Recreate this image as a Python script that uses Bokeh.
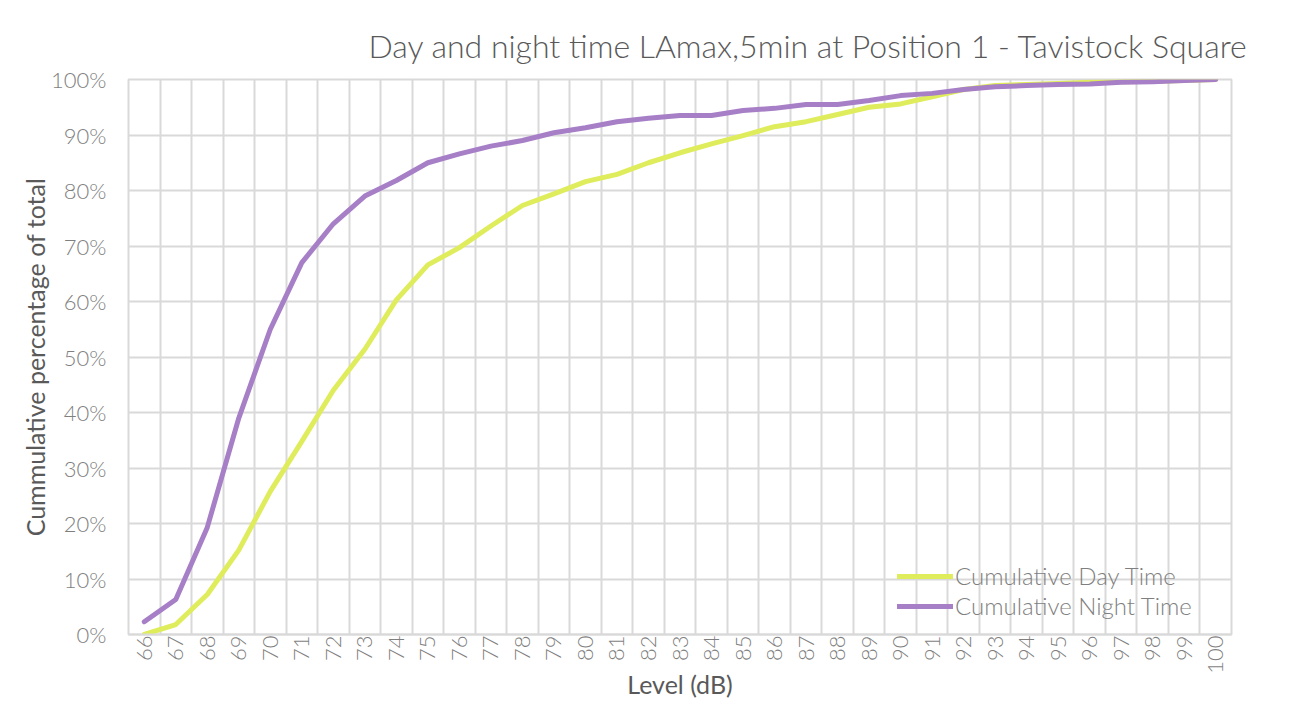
from bokeh.plotting import figure
from bokeh.models import Range1d, FixedTicker, NumeralTickFormatter, Legend, LegendItem, Title
from bokeh.embed import file_html
from bokeh.resources import INLINE
import math

levels = list(range(66, 101))
day_pct = [0.0, 1.8, 7.2, 15.2, 25.8, 34.8, 44.0, 51.4, 60.3, 66.6,
           69.7, 73.6, 77.3, 79.4, 81.6, 82.9, 85.0, 86.8, 88.4, 89.9,
           91.5, 92.4, 93.7, 95.0, 95.6, 96.9, 98.2, 98.9, 99.1, 99.3,
           99.5, 99.6, 99.7, 99.8, 100.0]
night_pct = [2.3, 6.3, 19.3, 39.0, 55.0, 67.0, 74.0, 79.0, 81.8, 85.0,
             86.6, 88.0, 89.0, 90.4, 91.3, 92.4, 93.0, 93.5, 93.5, 94.4,
             94.8, 95.5, 95.5, 96.2, 97.1, 97.5, 98.2, 98.7, 98.9, 99.1,
             99.2, 99.5, 99.6, 99.8, 100.0]
y_ticks = [0, 0.1, 0.2, 0.3, 0.4, 0.5, 0.6, 0.7, 0.8, 0.9, 1.0]

title_text = "Day and night time LAmax,5min at Position 1 - Tavistock Square"
x_label = "Level (dB)"
y_label = "Cummulative percentage of total"
series_names = ["Cumulative Day Time", "Cumulative Night Time"]

DAY_COLOR = "#dfec5c"
NIGHT_COLOR = "#a67fc7"
GRID = "#d9d9d9"
TXT = "#595959"
TICK = "#7f7f7f"
LIGHT = "Lato Light"
FONT = "Lato"

p = figure(width=1274, height=701, output_backend="svg", toolbar_location=None,
           x_range=Range1d(levels[0] - 0.5, levels[-1] + 0.5),
           y_range=Range1d(0, 1),
           min_border_left=128, min_border_right=43,
           min_border_top=79, min_border_bottom=67)
p.outline_line_color = GRID
p.outline_line_width = 2
p.background_fill_color = "white"
p.border_fill_color = "white"

t = Title(text=title_text, align="right", text_font=LIGHT, text_font_style="normal",
          text_font_size="32px", text_color=TXT, offset=-17, standoff=29)
p.add_layout(t, "above")

day_y = [v / 100 for v in day_pct]
night_y = [v / 100 for v in night_pct]
r_day = p.line(levels, day_y, line_color=DAY_COLOR, line_width=5, line_join="round", line_cap="round")
r_night = p.line(levels, night_y, line_color=NIGHT_COLOR, line_width=5, line_join="round", line_cap="round")

# axes
p.xaxis.ticker = FixedTicker(ticks=levels)
p.xaxis.major_label_orientation = math.pi / 2
p.xaxis.major_tick_line_color = None
p.xaxis.major_tick_out = 0
p.xaxis.major_tick_in = 0
p.xaxis.minor_tick_line_color = None
p.xaxis.axis_line_color = GRID
p.xaxis.axis_line_width = 2
p.xaxis.major_label_text_font = LIGHT
p.xaxis.major_label_text_font_size = "22px"
p.xaxis.major_label_text_color = TICK
p.xaxis.major_label_standoff = 1
p.xaxis.axis_label = x_label
p.xaxis.axis_label_text_font = FONT
p.xaxis.axis_label_text_font_style = "normal"
p.xaxis.axis_label_text_font_size = "25px"
p.xaxis.axis_label_text_color = TXT
p.xaxis.axis_label_standoff = -8

p.yaxis.ticker = FixedTicker(ticks=y_ticks)
p.yaxis.formatter = NumeralTickFormatter(format="0%")
p.yaxis.major_tick_line_color = None
p.yaxis.major_tick_out = 0
p.yaxis.major_tick_in = 0
p.yaxis.minor_tick_line_color = None
p.yaxis.axis_line_color = None
p.yaxis.major_label_text_font = LIGHT
p.yaxis.major_label_text_font_size = "22px"
p.yaxis.major_label_text_color = TICK
p.yaxis.major_label_standoff = 22
p.yaxis.axis_label = y_label
p.yaxis.axis_label_text_font = FONT
p.yaxis.axis_label_text_font_style = "normal"
p.yaxis.axis_label_text_font_size = "25px"
p.yaxis.axis_label_text_color = TXT
p.yaxis.axis_label_standoff = -2

# grids: vertical lines at band boundaries
p.xgrid.ticker = FixedTicker(ticks=[v - 0.5 for v in levels] + [levels[-1] + 0.5])
p.xgrid.grid_line_color = GRID
p.xgrid.grid_line_width = 2
p.ygrid.ticker = FixedTicker(ticks=y_ticks)
p.ygrid.grid_line_color = GRID
p.ygrid.grid_line_width = 2

legend = Legend(items=[LegendItem(label=series_names[0], renderers=[r_day]),
                       LegendItem(label=series_names[1], renderers=[r_night])],
                location=(769, 14), orientation="vertical",
                background_fill_alpha=0, border_line_color=None,
                label_text_font=LIGHT, label_text_font_size="24px",
                label_text_color=TICK, glyph_width=56, glyph_height=22,
                spacing=1, padding=4, margin=0, label_standoff=2)
p.add_layout(legend)

open("out.html", "w").write(file_html(p, INLINE))
